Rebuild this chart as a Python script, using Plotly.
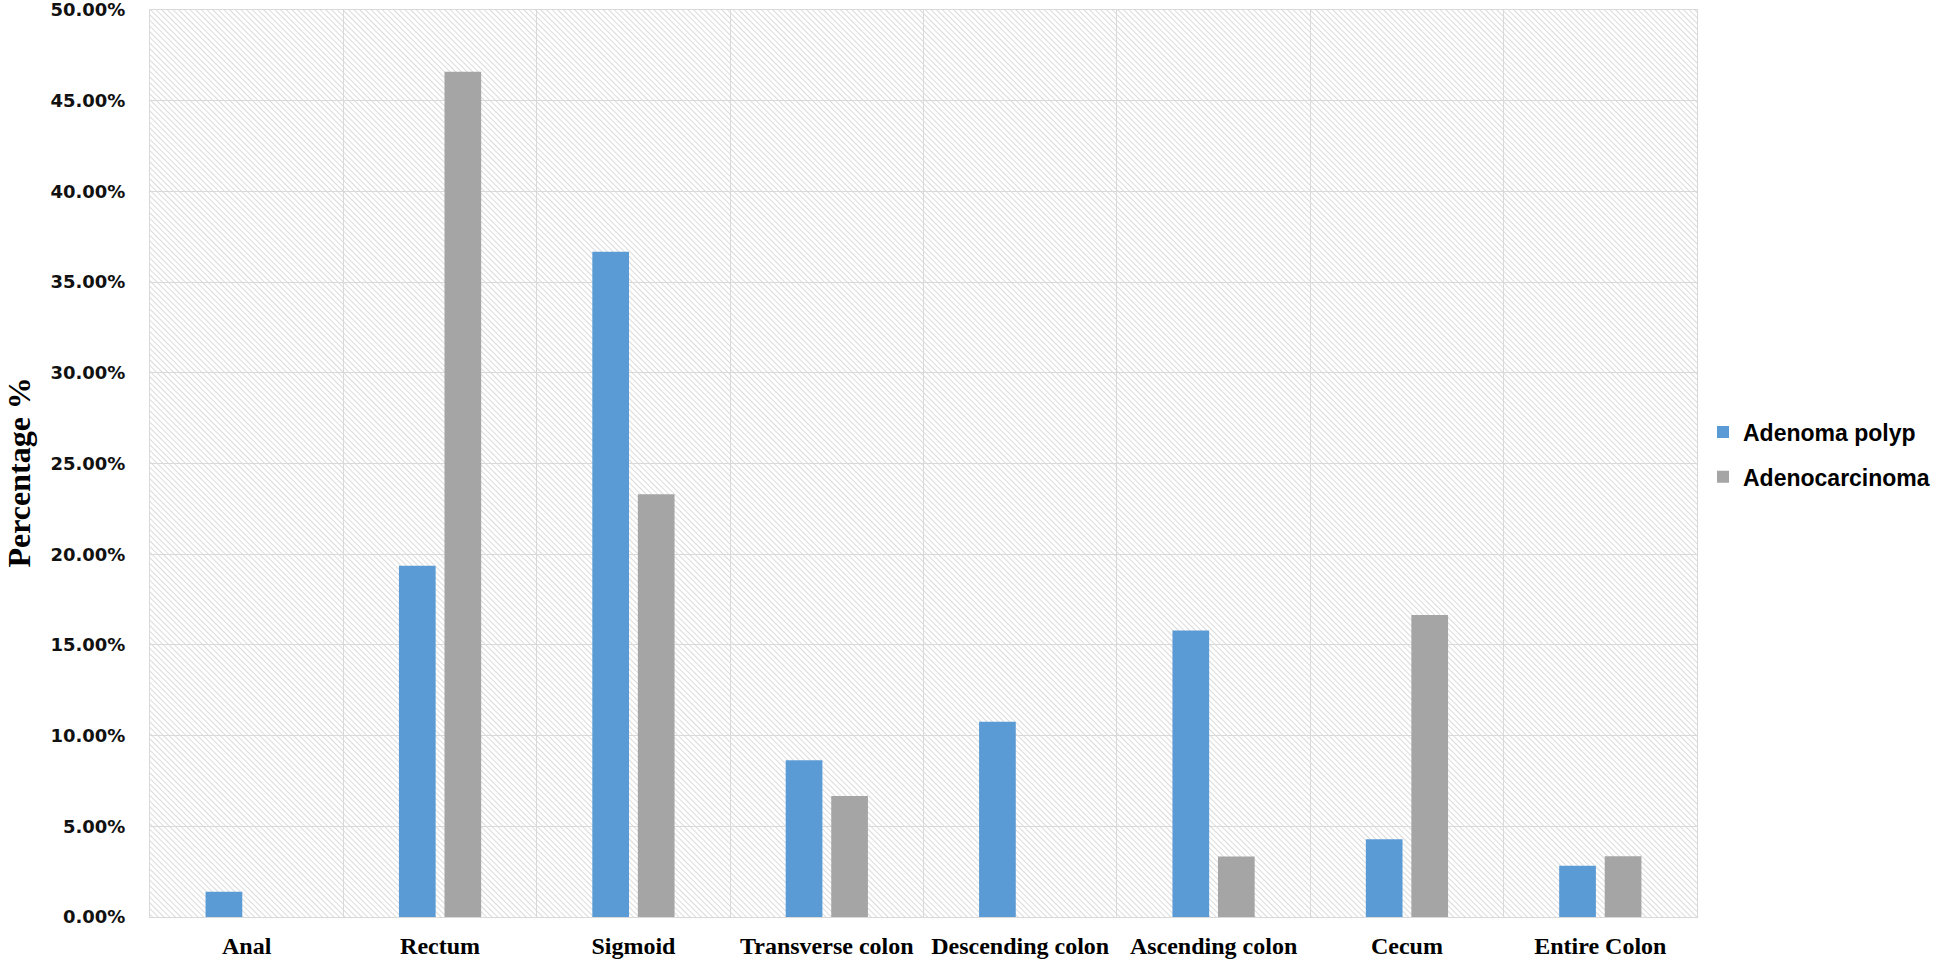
import base64
import plotly.graph_objects as go

categories = ["Anal", "Rectum", "Sigmoid", "Transverse colon", "Descending colon",
              "Ascending colon", "Cecum", "Entire Colon"]
adenoma_polyp = [1.39, 19.37, 36.67, 8.64, 10.77, 15.80, 4.28, 2.83]
adenocarcinoma = [0.0, 46.60, 23.30, 6.67, 0.0, 3.34, 16.65, 3.35]
y_ticks = [0, 5, 10, 15, 20, 25, 30, 35, 40, 45, 50]

BLUE = "#5B9BD5"
GRAY = "#A5A5A5"
GRID = "#d9d9d9"

W, H = 1946, 961
ML, MR, MT, MB = 150, 249, 10, 44
PW, PH = W - ML - MR, H - MT - MB

# diagonal hatch used as plot-area background
svg = (
    f'<svg xmlns="http://www.w3.org/2000/svg" width="{PW}" height="{PH}" '
    f'viewBox="0 0 {PW} {PH}" preserveAspectRatio="none">'
    '<defs><pattern id="h" width="4" height="4" patternUnits="userSpaceOnUse" '
    'patternTransform="rotate(-45)">'
    '<line x1="0" y1="0" x2="0" y2="4" stroke="#c2c2c2" stroke-width="1.2"/>'
    '</pattern></defs>'
    f'<rect x="0" y="0" width="{PW}" height="{PH}" fill="url(#h)"/></svg>'
)
hatch_src = "data:image/svg+xml;base64," + base64.b64encode(svg.encode()).decode()

fig = go.Figure()
fig.add_trace(go.Bar(
    name="Adenoma polyp", x=categories, y=adenoma_polyp,
    marker=dict(color=BLUE, line=dict(width=0)),
    legendgroup="a",
))
fig.add_trace(go.Bar(
    name="Adenocarcinoma", x=categories, y=adenocarcinoma,
    marker=dict(color=GRAY, line=dict(width=0)),
    legendgroup="b",
))

fig.update_layout(
    width=W, height=H,
    margin=dict(l=ML, r=MR, t=MT, b=MB, autoexpand=False),
    paper_bgcolor="white", plot_bgcolor="white",
    barmode="group", bargap=0.529, bargroupgap=0.194,
    images=[dict(
        source=hatch_src, xref="paper", yref="paper",
        x=0, y=1, sizex=1, sizey=1, xanchor="left", yanchor="top",
        sizing="stretch", layer="below",
    )],
    xaxis=dict(
        type="category", automargin=False,
        tickson="boundaries", showgrid=True, gridcolor=GRID, gridwidth=1,
        showline=True, linecolor=GRID, linewidth=1, mirror=True,
        ticks="", ticklabelstandoff=7, ticklabeloverflow="allow",
        tickfont=dict(family="Liberation Serif", size=24, color="black", weight="bold"),
    ),
    yaxis=dict(
        automargin=False,
        range=[0, 50], tickvals=y_ticks,
        ticktext=[f"{v:.2f}%" for v in y_ticks],
        showgrid=True, gridcolor=GRID, gridwidth=1,
        showline=True, linecolor=GRID, linewidth=1, mirror=True,
        zeroline=False, ticks="", ticklabelstandoff=20, ticklabeloverflow="allow",
        tickfont=dict(family="DejaVu Sans", size=18, color="#111111", weight="bold"),
    ),
    legend=dict(
        x=1.0 + 6 / PW, xanchor="left", y=0.510, yanchor="middle",
        xref="paper", yref="paper",
        font=dict(family="Liberation Sans", size=23, color="black", weight="bold"),
        tracegroupgap=12, bgcolor="rgba(0,0,0,0)",
    ),
    annotations=[dict(
        text="Percentage %", xref="paper", yref="paper",
        x=-131 / PW, y=0.49, xanchor="center", yanchor="middle",
        textangle=-90, showarrow=False,
        font=dict(family="Liberation Serif", size=32, color="black", weight="bold"),
    )],
)

fig.write_html("out.html", config={"displayModeBar": False},
               post_script="document.body.style.margin='0';")
